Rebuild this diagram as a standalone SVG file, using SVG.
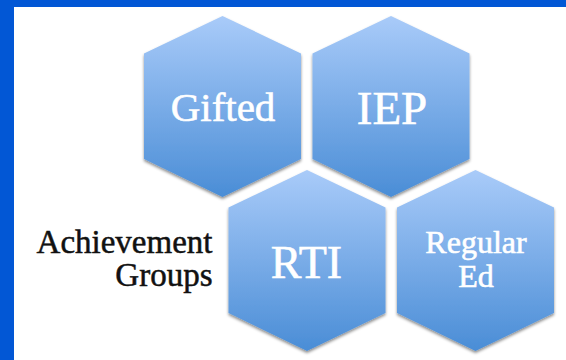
<svg xmlns="http://www.w3.org/2000/svg" xmlns:xlink="http://www.w3.org/1999/xlink" width="566" height="360" viewBox="0 0 566 360">
  <defs>
    <linearGradient id="hexGrad" x1="0" y1="0" x2="0" y2="1">
      <stop offset="0" stop-color="#a9cbf9"/>
      <stop offset="1" stop-color="#4a8dd6"/>
    </linearGradient>
    <filter id="shadow" x="-10%" y="-10%" width="120%" height="125%">
      <feDropShadow dx="0" dy="2" stdDeviation="1.5" flood-color="#000" flood-opacity="0.45"/>
    </filter>
    <polygon id="hex" points="0,-90.5 78.5,-53 78.5,52.5 0,90.5 -78.5,52.5 -78.5,-53"/>
  </defs>
  <style>
    .hex { fill: url(#hexGrad); filter: url(#shadow); }
    .lbl { font-family: "Liberation Serif", "Times New Roman", serif; fill: #ffffff; stroke: #ffffff; stroke-width: 0.6px; text-anchor: middle; }
    .side { font-family: "Liberation Serif", "Times New Roman", serif; fill: #111111; stroke: #111111; stroke-width: 0.5px; text-anchor: end; font-size: 33px; }
  </style>
  <rect x="0" y="0" width="566" height="360" fill="#0257d5"/>
  <rect x="14" y="7" width="552" height="353" fill="#ffffff"/>

  <g id="gifted">
    <use xlink:href="#hex" href="#hex" class="hex" transform="translate(222.5,106.5)"/>
    <text class="lbl" x="223" y="120.5" font-size="41">Gifted</text>
  </g>
  <g id="iep">
    <use xlink:href="#hex" href="#hex" class="hex" transform="translate(391,106.5)"/>
    <text class="lbl" x="392" y="124" font-size="47">IEP</text>
  </g>
  <g id="rti">
    <use xlink:href="#hex" href="#hex" class="hex" transform="translate(307,260.5)"/>
    <text class="lbl" x="306.5" y="278" font-size="46">RTI</text>
  </g>
  <g id="regular-ed">
    <use xlink:href="#hex" href="#hex" class="hex" transform="translate(475.5,260.5)"/>
    <text class="lbl" x="476" y="253" font-size="32">Regular</text>
    <text class="lbl" x="476" y="286.5" font-size="32">Ed</text>
  </g>
  <g id="achievement-groups">
    <text class="side" x="212.5" y="252.5">Achievement</text>
    <text class="side" x="212.5" y="286">Groups</text>
  </g>
  <g id="connectors"/>
</svg>
